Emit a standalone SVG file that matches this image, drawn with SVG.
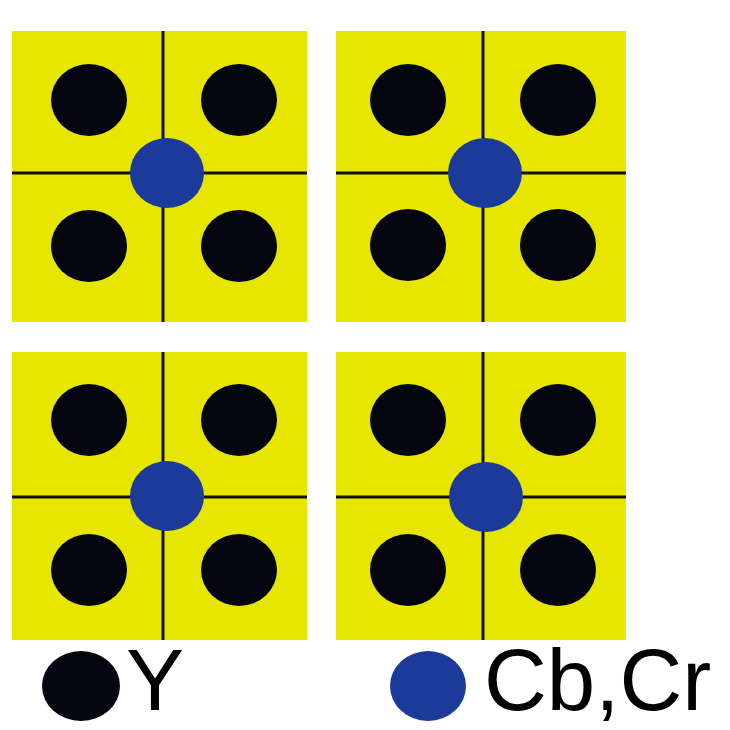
<svg xmlns="http://www.w3.org/2000/svg" width="730" height="730" viewBox="0 0 730 730">
<style>
.sq{fill:#e6e600}
.ln{stroke:#111;stroke-width:3;fill:none}
.y{fill:#050510}
.c{fill:#1b3a99}
.t{font-family:"Liberation Sans",Arial,sans-serif;font-size:87px;fill:#000}
</style>
<rect width="730" height="730" fill="#fff"/>
<g id="block-tl">
<rect class="sq" x="12" y="31" width="295" height="291"/>
<g class="ln"><line x1="163" y1="31" x2="163" y2="322"/><line x1="12" y1="173" x2="307" y2="173"/></g>
<ellipse class="y" cx="89" cy="100" rx="38" ry="36"/>
<ellipse class="y" cx="239" cy="100" rx="38" ry="36"/>
<ellipse class="y" cx="89" cy="246" rx="38" ry="36"/>
<ellipse class="y" cx="239" cy="246" rx="38" ry="36"/>
<ellipse class="c" cx="167" cy="173" rx="37" ry="35"/>
</g>
<g id="block-tr">
<rect class="sq" x="336" y="31" width="290" height="291"/>
<g class="ln"><line x1="483" y1="31" x2="483" y2="322"/><line x1="336" y1="173" x2="626" y2="173"/></g>
<ellipse class="y" cx="408" cy="100" rx="38" ry="36"/>
<ellipse class="y" cx="558" cy="100" rx="38" ry="36"/>
<ellipse class="y" cx="408" cy="245" rx="38" ry="36"/>
<ellipse class="y" cx="558" cy="245" rx="38" ry="36"/>
<ellipse class="c" cx="485" cy="173" rx="37" ry="35"/>
</g>
<g id="block-bl">
<rect class="sq" x="12" y="352" width="295" height="288"/>
<g class="ln"><line x1="163" y1="352" x2="163" y2="640"/><line x1="12" y1="497" x2="307" y2="497"/></g>
<ellipse class="y" cx="89" cy="420" rx="38" ry="36"/>
<ellipse class="y" cx="239" cy="420" rx="38" ry="36"/>
<ellipse class="y" cx="89" cy="570" rx="38" ry="36"/>
<ellipse class="y" cx="239" cy="570" rx="38" ry="36"/>
<ellipse class="c" cx="167" cy="496" rx="37" ry="35"/>
</g>
<g id="block-br">
<rect class="sq" x="336" y="352" width="290" height="288"/>
<g class="ln"><line x1="483" y1="352" x2="483" y2="640"/><line x1="336" y1="497" x2="626" y2="497"/></g>
<ellipse class="y" cx="408" cy="420" rx="38" ry="36"/>
<ellipse class="y" cx="558" cy="420" rx="38" ry="36"/>
<ellipse class="y" cx="408" cy="570" rx="38" ry="36"/>
<ellipse class="y" cx="558" cy="570" rx="38" ry="36"/>
<ellipse class="c" cx="486" cy="497" rx="37" ry="35"/>
</g>
<g id="legend-y">
<ellipse class="y" cx="81" cy="686" rx="39" ry="35"/>
<text class="t" x="126" y="710">Y</text>
</g>
<g id="legend-c">
<ellipse class="c" cx="428" cy="686" rx="38" ry="35"/>
<text class="t" x="484" y="710">Cb,Cr</text>
</g>
</svg>
